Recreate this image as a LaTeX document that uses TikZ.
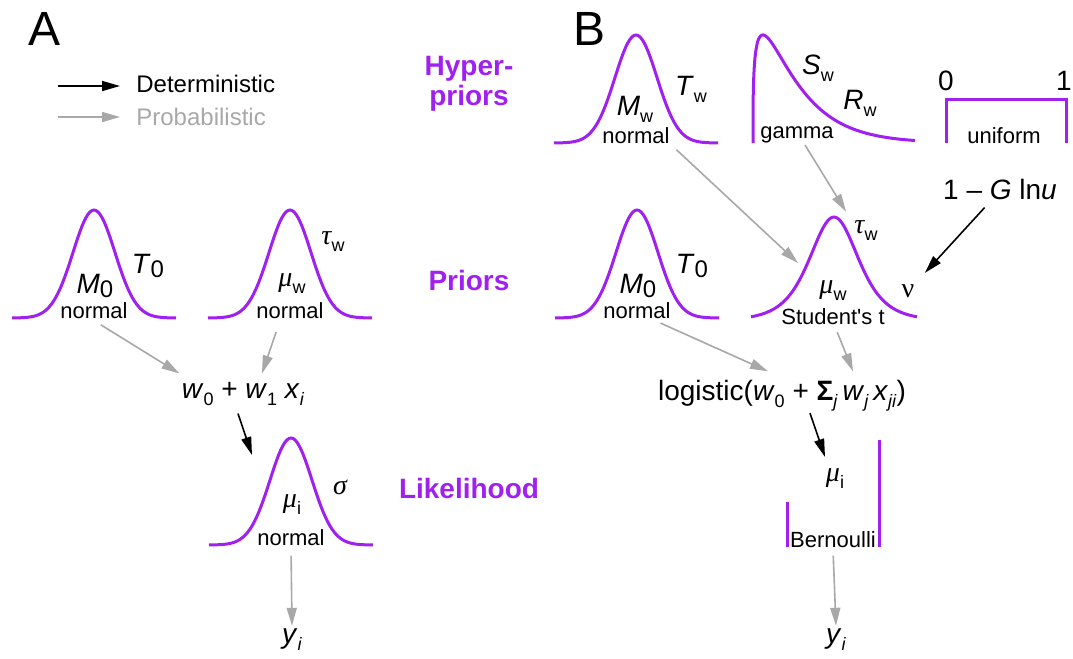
\documentclass[tikz,border=0pt]{standalone}
\usepackage{fontspec}
\setmainfont{Liberation Sans}
\newfontfamily\greekfont{Liberation Serif}
\definecolor{distpurple}{RGB}{160,32,240}
\definecolor{probgray}{RGB}{168,168,168}
\usetikzlibrary{arrows.meta,calc}
\newcommand{\sbs}[1]{\raisebox{-3.5pt}{\fontsize{9}{9}\selectfont #1}}
\newcommand{\sbz}[1]{\raisebox{-2pt}{\fontsize{12}{12}\selectfont #1}}
\newcommand{\gk}[1]{{\greekfont\itshape #1}}
\tikzset{
  curve/.style={distpurple, line width=1.5pt},
  det/.style={black, line width=0.8pt, -{Triangle[length=9pt,width=5pt]}},
  prob/.style={probgray, line width=0.8pt, -{Triangle[length=9pt,width=5pt]}},
  dist/.style={anchor=base, inner sep=1pt, font=\fontsize{11}{13}\selectfont},
  par/.style={anchor=base, inner sep=1pt, font=\fontsize{14}{16}\selectfont},
  formula/.style={anchor=base, inner xsep=1pt, inner ysep=4pt, font=\fontsize{14}{16}\selectfont},
  stage/.style={font=\fontsize{14}{15}\selectfont\bfseries, text=distpurple, align=center, inner sep=1pt},
  panel/.style={anchor=base, inner sep=0pt, font=\fontsize{24}{24}\selectfont},
}
\begin{document}
\begin{tikzpicture}[x=0.5pt, y=-0.5pt]
  \useasboundingbox (0,0) rectangle (1073,659);

  % panel letters
  \node[panel] (panA) at (45,45) {A};
  \node[panel] (panB) at (590,45) {B};

  % legend
  \coordinate (detstart) at (58,86);
  \coordinate (probstart) at (58,117);
  \node[anchor=base west, inner sep=1pt, font=\fontsize{12}{14}\selectfont] (detlbl) at (134,92) {Deterministic};
  \node[anchor=base west, inner sep=1pt, font=\fontsize{12}{14}\selectfont, text=probgray] (problbl) at (134,125) {Probabilistic};
  \draw[det, shorten >=7pt] (detstart) -- (detstart -| detlbl.west);
  \draw[prob, shorten >=7pt] (probstart) -- (probstart -| problbl.west);

  % stage labels
  \node[stage] (hyper) at (469,84) {Hyper-\\priors};
  \node[stage, anchor=base] (priors) at (469,290) {Priors};
  \node[stage, anchor=base] (likeli) at (469,498) {Likelihood};

  % A: priors
  \draw[curve] plot[domain=-82:82, samples=81, smooth] ({94+\x}, {318-108*exp(-0.5*(\x/21)^2)});
  \node[par] (M0a) at (95,293) {\textit{M}\sbz{0}};
  \node[par] (T0a) at (148,273) {\textit{T}\sbz{0}};
  \node[dist] (normA1) at (94,318) {normal};

  \draw[curve] plot[domain=-82:82, samples=81, smooth] ({290+\x}, {318-108*exp(-0.5*(\x/21)^2)});
  \node[par] (muwA) at (292,286) {\gk{μ}\sbs{w}};
  \node[par] (tauwA) at (333,244) {\gk{τ}\sbs{w}};
  \node[dist] (normA2) at (290,318) {normal};

  % A: linear predictor
  \node[formula] (linA) at (243,398) {\textit{w}\sbs{0} + \textit{w}\sbs{1} \textit{x}\sbs{\textit{i}}};
  \draw[prob, shorten <=4pt] (normA1.south) -- (linA.north west);
  \draw[prob, shorten <=6pt] ([xshift=-5pt]normA2.south) -- ([xshift=9.5pt]linA.north);

  % A: likelihood
  \draw[curve] plot[domain=-82:82, samples=81, smooth] ({291+\x}, {545-107*exp(-0.5*(\x/21)^2)});
  \node[par] (sigA) at (340,494) {\gk{σ}};
  \node[par] (muiA) at (292,507) {\gk{μ}\sbs{i}};
  \node[dist] (normAL) at (291,545) {normal};
  \coordinate (likA-in) at (252,455);
  \draw[det] ([xshift=-2.5pt]linA.south) -- (likA-in);
  \node[par] (yA) at (292,643) {\textit{y}\sbs{\textit{i}}};
  \draw[prob, shorten <=4pt] (normAL.south) -- (yA.north);

  % B: hyperpriors
  \draw[curve] plot[domain=-82:82, samples=81, smooth] ({636+\x}, {143-108*exp(-0.5*(\x/21)^2)});
  \node[par] (Mw) at (635,115) {\textit{M}\sbs{w}};
  \node[par] (Tw) at (691,95) {\textit{T}\sbs{w}};
  \node[dist] (normBH) at (636,143) {normal};

  \draw[curve] (753,143) -- plot[domain=0.2:12.73, samples=80, smooth] ({753+\x*\x}, {143-108*((\x*\x/33)^0.3*exp(-\x*\x/33))/0.5162});
  \node[par] (Sw) at (818,74) {\textit{S}\sbs{w}};
  \node[par] (Rw) at (860,109) {\textit{R}\sbs{w}};
  \node[dist] (gam) at (797,138) {gamma};

  \draw[curve] (946,143) -- (946,99) -- (1066,99) -- (1066,143);
  \node[par] (zero) at (946,90) {0};
  \node[par] (one) at (1064,90) {1};
  \node[dist] (unif) at (1004,143) {uniform};
  \node[par] (lnu) at (1000,199) {1 – \textit{G} ln\textit{u}};

  % B: priors
  \draw[curve] plot[domain=-82:82, samples=81, smooth] ({637+\x}, {318-108*exp(-0.5*(\x/21)^2)});
  \node[par] (M0b) at (638,293) {\textit{M}\sbz{0}};
  \node[par] (T0b) at (692,273) {\textit{T}\sbz{0}};
  \node[dist] (normBP) at (637,318) {normal};

  \draw[curve] plot[domain=-83:83, samples=81, smooth] ({834+\x}, {321-104/((1+(\x/25.7)^2/4)^2.5)});
  \node[par] (muwB) at (833,293) {\gk{μ}\sbs{w}};
  \node[par] (tauwB) at (866,233) {\gk{τ}\sbs{w}};
  \node[par] (nu) at (908,297) {{\greekfont ν}};
  \node[dist] (stud) at (833,324) {Student\textquotesingle s t};

  \coordinate (stud-in) at (798,263);
  \draw[prob, shorten <=3pt] (normBH.south east) -- (stud-in);
  \draw[prob] ([xshift=4pt]gam.south) -- ([xshift=-3pt,yshift=3pt]tauwB.north west);
  \draw[det, shorten <=4pt, shorten >=6pt] ([xshift=-5pt]lnu.south) -- (nu.north east);

  % B: linear predictor
  \node[formula] (logis) at (782,400) {logistic(\textit{w}\sbs{0} + \textbf{Σ}\sbs{\textit{j}}\,\textit{w}\sbs{\textit{j}}\,\textit{x}\sbs{\textit{ji}})};
  \draw[prob, shorten <=3pt] ([xshift=9pt]normBP.south) -- ([xshift=-7pt]logis.north);
  \draw[prob, shorten <=3pt] ([xshift=1pt]stud.south) -- ([xshift=35.5pt]logis.north);

  % B: likelihood
  \draw[curve] (787,502) -- (787,547);
  \draw[curve] (879,440) -- (879,547);
  \node[par] (muiB) at (835,481) {\gk{μ}\sbs{i}};
  \node[dist] (bern) at (833,547) {Bernoulli};
  \coordinate (bern-in) at (825,457);
  \draw[det] ([xshift=14pt,yshift=3pt]logis.south) -- (bern-in);
  \node[par] (yB) at (836,643) {\textit{y}\sbs{\textit{i}}};
  \draw[prob, shorten <=3pt] (bern.south) -- (yB.north);
\end{tikzpicture}
\end{document}
